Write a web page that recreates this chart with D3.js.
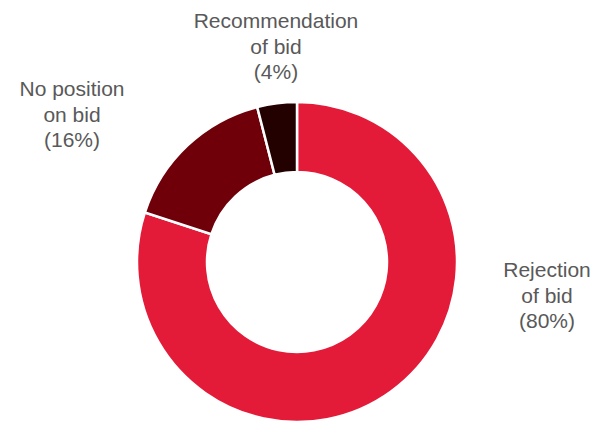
<!DOCTYPE html>
<html>
<head>
<meta charset="utf-8">
<script src="https://cdn.jsdelivr.net/npm/d3@7/dist/d3.min.js"></script>
<style>
  html, body { margin: 0; padding: 0; background: #fff; }
  svg { display: block; }
  text { font-family: "Liberation Sans", Arial, sans-serif; fill: #595959; }
</style>
</head>
<body>
<svg id="chart" width="596" height="421"></svg>
<script>
// Outcome of the board's stance on the bid, shares in percent
const categories = ["Rejection of bid", "No position on bid", "Recommendation of bid"];
const labelLines = [["Rejection", "of bid"], ["No position", "on bid"], ["Recommendation", "of bid"]];
const shares = [80, 16, 4];
const colors = ["#E31A38", "#6F0009", "#240101"];

const width = 596, height = 421;
const cx = 297, cy = 262;
const outerR = 160, innerR = 90;

// label block centres (x) and first baseline (y)
const labelPos = [
  { x: 547, y: 277 },
  { x: 72, y: 96 },
  { x: 276, y: 28 }
];
const lineGap = 25.5;

const svg = d3.select("#chart");
const g = svg.append("g").attr("transform", `translate(${cx},${cy})`);

const data = categories.map((c, i) => ({ name: c, value: shares[i], i }));

const pie = d3.pie().sort(null).value(d => d.value);
const arc = d3.arc().innerRadius(innerR).outerRadius(outerR);

g.selectAll("path.slice")
  .data(pie(data))
  .join("path")
  .attr("class", "slice")
  .attr("d", arc)
  .attr("fill", d => colors[d.data.i])
  .attr("stroke", "#fff")
  .attr("stroke-width", 2.5)
  .attr("stroke-linejoin", "miter");

const labels = svg.selectAll("text.lbl")
  .data(data)
  .join("text")
  .attr("class", "lbl")
  .attr("text-anchor", "middle")
  .attr("font-size", 21);

labels.each(function (d) {
  const t = d3.select(this);
  const p = labelPos[d.i];
  const lines = labelLines[d.i].concat([`(${d.value}%)`]);
  lines.forEach((ln, k) => {
    t.append("tspan")
      .attr("x", p.x)
      .attr("y", p.y + k * lineGap)
      .text(ln);
  });
});
</script>
</body>
</html>
